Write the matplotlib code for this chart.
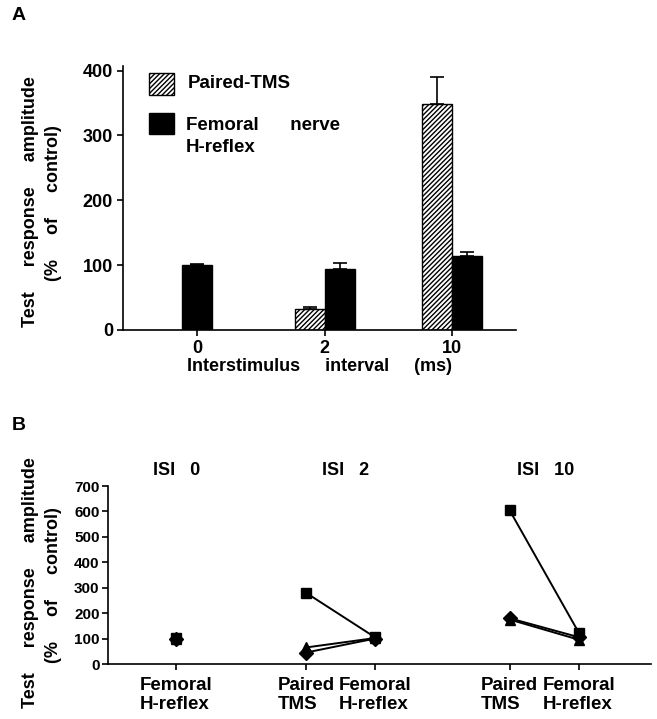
import matplotlib
matplotlib.use('Agg')
import matplotlib.pyplot as plt
import numpy as np

plt.rcParams['font.family'] = ['Liberation Sans', 'DejaVu Sans']
plt.rcParams['font.weight'] = 'bold'
plt.rcParams['hatch.linewidth'] = 1.0

# panel A: means and upper error
isi_labels = ['0', '2', '10']
tms_mean = [None, 33, 349]
tms_err = [None, 2.5, 41]
href_mean = [100, 94, 114]
href_err = [1.5, 9, 6]

# panel B: single subjects (square, triangle, diamond)
b_labels = ['Femoral\nH-reflex', 'Paired\nTMS', 'Femoral\nH-reflex', 'Paired\nTMS', 'Femoral\nH-reflex']
isi0_href = [103, 97, 100]
isi2_tms = [280, 65, 45]
isi2_href = [105, 102, 100]
isi10_tms = [605, 175, 180]
isi10_href = [120, 95, 105]
subj_markers = ['s', '^', 'D']

W, H = 657, 719
fig = plt.figure(figsize=(W / 100, H / 100), dpi=100)

def box(l, t, r, b):
    return [l / W, 1 - b / H, (r - l) / W, (b - t) / H]

# ---------- A ----------
ax = fig.add_axes(box(122.7, 66, 516, 330))
xa = np.arange(3)
bw = 0.235
for i in range(3):
    if tms_mean[i] is None:
        ax.bar(xa[i], href_mean[i], bw, color='black', edgecolor='black')
        ax.errorbar(xa[i], href_mean[i], yerr=[[0], [href_err[i]]], fmt='none',
                    ecolor='black', elinewidth=1.2, capsize=5, capthick=1.2)
    else:
        ax.bar(xa[i] - bw / 2, tms_mean[i], bw, color='white', edgecolor='black',
               hatch='///////', linewidth=1)
        ax.errorbar(xa[i] - bw / 2, tms_mean[i], yerr=[[0], [tms_err[i]]], fmt='none',
                    ecolor='black', elinewidth=1.2, capsize=5, capthick=1.2)
        ax.bar(xa[i] + bw / 2, href_mean[i], bw, color='black', edgecolor='black')
        ax.errorbar(xa[i] + bw / 2, href_mean[i], yerr=[[0], [href_err[i]]], fmt='none',
                    ecolor='black', elinewidth=1.2, capsize=5, capthick=1.2)
ax.set_xlim(-0.583, 2.5)
ax.set_ylim(0, 407)
ax.set_yticks([0, 100, 200, 300, 400])
ax.set_xticks(xa)
ax.set_xticklabels(isi_labels)
for s in ['top', 'right']:
    ax.spines[s].set_visible(False)
for s in ['left', 'bottom']:
    ax.spines[s].set_linewidth(1.2)
ax.tick_params(direction='out', length=4, width=1.2, labelsize=13, pad=3)
ax.set_xlabel('Interstimulus     interval     (ms)', fontsize=13, fontweight='bold', labelpad=1)

# legend
fig.patches.append(plt.Rectangle((149 / W, 1 - 95 / H), 25 / W, 22 / H, transform=fig.transFigure,
                                 facecolor='white', edgecolor='black', hatch='///////', linewidth=1))
fig.patches.append(plt.Rectangle((149 / W, 1 - 134 / H), 25 / W, 21 / H, transform=fig.transFigure,
                                 facecolor='black', edgecolor='black'))
fig.text(188 / W, 1 - 84 / H, 'Paired-TMS', fontsize=13.5, va='center', ha='left')
fig.text(186 / W, 1 - 125 / H, 'Femoral      nerve', fontsize=13.5, va='center', ha='left')
fig.text(186 / W, 1 - 148 / H, 'H-reflex', fontsize=13.5, va='center', ha='left')

fig.text(31 / W, 1 - 202 / H, 'Test     response     amplitude', rotation=90, fontsize=13,
         ha='center', va='center')
fig.text(54 / W, 1 - 203 / H, '(%     of     control)', rotation=90, fontsize=13,
         ha='center', va='center')
fig.text(12 / W, 1 - 15 / H, 'A', fontsize=14, ha='left', va='center')

# ---------- B ----------
bx = fig.add_axes(box(108, 486, 651, 664))
pos = [0, 1.88, 2.88, 4.83, 5.84]
for k in range(3):
    bx.plot([pos[0]], [isi0_href[k]], marker=subj_markers[k], color='black', markersize=7)
    bx.plot([pos[1], pos[2]], [isi2_tms[k], isi2_href[k]], '-', marker=subj_markers[k],
            color='black', markersize=7, linewidth=1.4)
    bx.plot([pos[3], pos[4]], [isi10_tms[k], isi10_href[k]], '-', marker=subj_markers[k],
            color='black', markersize=7, linewidth=1.4)
bx.set_xlim(-0.99, 6.88)
bx.set_ylim(0, 700)
bx.set_yticks(np.arange(0, 701, 100))
bx.set_xticks(pos)
bx.set_xticklabels(b_labels, multialignment='left', linespacing=1.2)
for s in ['top', 'right']:
    bx.spines[s].set_visible(False)
for s in ['left', 'bottom']:
    bx.spines[s].set_linewidth(1.2)
bx.tick_params(axis='y', direction='out', length=4, width=1.2, labelsize=11, pad=2)
bx.tick_params(axis='x', direction='out', length=4, width=1.2, labelsize=13.5, pad=5)
bx.text(pos[0], 760, 'ISI   0', fontsize=13, ha='center', va='center')
bx.text(2.45, 760, 'ISI   2', fontsize=13, ha='center', va='center')
bx.text(5.35, 760, 'ISI   10', fontsize=13, ha='center', va='center')

fig.text(31 / W, 1 - 583 / H, 'Test     response     amplitude', rotation=90, fontsize=13,
         ha='center', va='center')
fig.text(54 / W, 1 - 585 / H, '(%     of     control)', rotation=90, fontsize=13,
         ha='center', va='center')
fig.text(12 / W, 1 - 425 / H, 'B', fontsize=14, ha='left', va='center')

fig.savefig('out.png', dpi=100)
